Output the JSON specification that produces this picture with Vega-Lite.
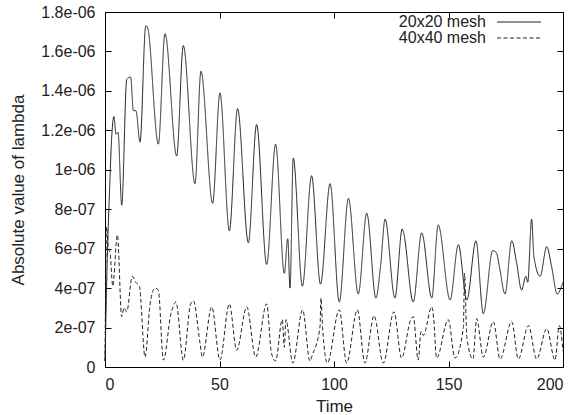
{
  "$schema": "https://vega.github.io/schema/vega-lite/v6.json",
  "width": 458,
  "height": 355,
  "autosize": {"type": "none"},
  "padding": {"left": 105, "top": 12, "right": 11, "bottom": 48},
  "background": "white",
  "config": {
    "view": {"stroke": "#000", "strokeWidth": 1},
    "font": "Liberation Sans",
    "axis": {
      "labelFont": "Liberation Sans",
      "titleFont": "Liberation Sans",
      "labelFontSize": 16,
      "titleFontSize": 17,
      "titleFontWeight": "normal",
      "labelColor": "#222",
      "titleColor": "#222",
      "grid": false,
      "domain": false,
      "ticks": true,
      "tickColor": "#000",
      "tickWidth": 1,
      "tickSize": 6,
      "offset": -6,
      "labelOverlap": false
    }
  },
  "data": {"values": [
    {"t":0,"v":0.3e-7,"mesh":"20x20 mesh"},{"t":1,"v":5.5e-7,"mesh":"20x20 mesh"},{"t":2,"v":9.0e-7,"mesh":"20x20 mesh"},{"t":3,"v":11.8e-7,"mesh":"20x20 mesh"},{"t":3.9,"v":12.7e-7,"mesh":"20x20 mesh"},{"t":4.8,"v":11.8e-7,"mesh":"20x20 mesh"},{"t":5.7,"v":11.9e-7,"mesh":"20x20 mesh"},{"t":7.3,"v":8.2e-7,"mesh":"20x20 mesh"},{"t":9.5,"v":14.6e-7,"mesh":"20x20 mesh"},{"t":11.2,"v":14.7e-7,"mesh":"20x20 mesh"},{"t":12.4,"v":13.0e-7,"mesh":"20x20 mesh"},{"t":13.5,"v":13.0e-7,"mesh":"20x20 mesh"},{"t":15.3,"v":11.4e-7,"mesh":"20x20 mesh"},{"t":17.8,"v":17.3e-7,"mesh":"20x20 mesh"},{"t":18.6,"v":17.2e-7,"mesh":"20x20 mesh"},{"t":23.3,"v":11.3e-7,"mesh":"20x20 mesh"},{"t":26.2,"v":16.9e-7,"mesh":"20x20 mesh"},{"t":31.3,"v":10.7e-7,"mesh":"20x20 mesh"},{"t":34.2,"v":16.3e-7,"mesh":"20x20 mesh"},{"t":39.3,"v":9.3e-7,"mesh":"20x20 mesh"},{"t":41.9,"v":15.0e-7,"mesh":"20x20 mesh"},{"t":47.0,"v":8.3e-7,"mesh":"20x20 mesh"},{"t":50.2,"v":13.9e-7,"mesh":"20x20 mesh"},{"t":54.3,"v":6.9e-7,"mesh":"20x20 mesh"},{"t":57.9,"v":13.1e-7,"mesh":"20x20 mesh"},{"t":62.6,"v":6.3e-7,"mesh":"20x20 mesh"},{"t":66.2,"v":12.3e-7,"mesh":"20x20 mesh"},{"t":70.6,"v":5.2e-7,"mesh":"20x20 mesh"},{"t":74.5,"v":11.3e-7,"mesh":"20x20 mesh"},{"t":78.3,"v":4.75e-7,"mesh":"20x20 mesh"},{"t":79.8,"v":6.5e-7,"mesh":"20x20 mesh"},{"t":80.8,"v":4.0e-7,"mesh":"20x20 mesh"},{"t":82.2,"v":10.6e-7,"mesh":"20x20 mesh"},{"t":86.2,"v":4.1e-7,"mesh":"20x20 mesh"},{"t":90.2,"v":9.7e-7,"mesh":"20x20 mesh"},{"t":94.1,"v":4.2e-7,"mesh":"20x20 mesh"},{"t":98.3,"v":9.3e-7,"mesh":"20x20 mesh"},{"t":102.3,"v":3.3e-7,"mesh":"20x20 mesh"},{"t":106.3,"v":8.55e-7,"mesh":"20x20 mesh"},{"t":110.6,"v":3.7e-7,"mesh":"20x20 mesh"},{"t":114.3,"v":7.8e-7,"mesh":"20x20 mesh"},{"t":118.3,"v":3.5e-7,"mesh":"20x20 mesh"},{"t":120.4,"v":5.2e-7,"mesh":"20x20 mesh"},{"t":122.3,"v":7.5e-7,"mesh":"20x20 mesh"},{"t":126.6,"v":3.5e-7,"mesh":"20x20 mesh"},{"t":129.8,"v":7.0e-7,"mesh":"20x20 mesh"},{"t":130.4,"v":6.8e-7,"mesh":"20x20 mesh"},{"t":134.6,"v":3.3e-7,"mesh":"20x20 mesh"},{"t":138.3,"v":6.8e-7,"mesh":"20x20 mesh"},{"t":142.7,"v":3.5e-7,"mesh":"20x20 mesh"},{"t":145.5,"v":7.2e-7,"mesh":"20x20 mesh"},{"t":150.7,"v":3.4e-7,"mesh":"20x20 mesh"},{"t":154.3,"v":6.2e-7,"mesh":"20x20 mesh"},{"t":158.0,"v":3.4e-7,"mesh":"20x20 mesh"},{"t":162.0,"v":6.4e-7,"mesh":"20x20 mesh"},{"t":165.2,"v":2.7e-7,"mesh":"20x20 mesh"},{"t":169.3,"v":5.9e-7,"mesh":"20x20 mesh"},{"t":170.9,"v":5.8e-7,"mesh":"20x20 mesh"},{"t":172.2,"v":5.1e-7,"mesh":"20x20 mesh"},{"t":174.7,"v":3.7e-7,"mesh":"20x20 mesh"},{"t":177.6,"v":6.4e-7,"mesh":"20x20 mesh"},{"t":179.8,"v":5.25e-7,"mesh":"20x20 mesh"},{"t":181.9,"v":3.9e-7,"mesh":"20x20 mesh"},{"t":183.8,"v":4.6e-7,"mesh":"20x20 mesh"},{"t":184.6,"v":4.3e-7,"mesh":"20x20 mesh"},{"t":186.3,"v":7.5e-7,"mesh":"20x20 mesh"},{"t":187.3,"v":5.6e-7,"mesh":"20x20 mesh"},{"t":190.0,"v":4.6e-7,"mesh":"20x20 mesh"},{"t":192.9,"v":6.1e-7,"mesh":"20x20 mesh"},{"t":195.0,"v":5.1e-7,"mesh":"20x20 mesh"},{"t":197.5,"v":3.7e-7,"mesh":"20x20 mesh"},{"t":199.4,"v":4.1e-7,"mesh":"20x20 mesh"},{"t":200,"v":4.3e-7,"mesh":"20x20 mesh"},
    {"t":0,"v":0.3e-7,"mesh":"40x40 mesh"},{"t":0.7,"v":7.1e-7,"mesh":"40x40 mesh"},{"t":1.5,"v":6.0e-7,"mesh":"40x40 mesh"},{"t":2.2,"v":5.8e-7,"mesh":"40x40 mesh"},{"t":3.4,"v":4.1e-7,"mesh":"40x40 mesh"},{"t":5.4,"v":6.7e-7,"mesh":"40x40 mesh"},{"t":7.3,"v":2.55e-7,"mesh":"40x40 mesh"},{"t":8.3,"v":3.0e-7,"mesh":"40x40 mesh"},{"t":9.5,"v":2.8e-7,"mesh":"40x40 mesh"},{"t":11.9,"v":4.6e-7,"mesh":"40x40 mesh"},{"t":13.4,"v":4.3e-7,"mesh":"40x40 mesh"},{"t":15.0,"v":4.1e-7,"mesh":"40x40 mesh"},{"t":17.5,"v":0.5e-7,"mesh":"40x40 mesh"},{"t":19.7,"v":3.2e-7,"mesh":"40x40 mesh"},{"t":21.8,"v":4.0e-7,"mesh":"40x40 mesh"},{"t":23.3,"v":3.9e-7,"mesh":"40x40 mesh"},{"t":25.5,"v":0.35e-7,"mesh":"40x40 mesh"},{"t":28.8,"v":2.7e-7,"mesh":"40x40 mesh"},{"t":31.0,"v":3.3e-7,"mesh":"40x40 mesh"},{"t":34.2,"v":0.35e-7,"mesh":"40x40 mesh"},{"t":37.4,"v":3.2e-7,"mesh":"40x40 mesh"},{"t":38.6,"v":3.35e-7,"mesh":"40x40 mesh"},{"t":41.5,"v":1.2e-7,"mesh":"40x40 mesh"},{"t":42.5,"v":0.5e-7,"mesh":"40x40 mesh"},{"t":46.6,"v":3.05e-7,"mesh":"40x40 mesh"},{"t":50.2,"v":0.35e-7,"mesh":"40x40 mesh"},{"t":54.3,"v":3.2e-7,"mesh":"40x40 mesh"},{"t":57.5,"v":0.85e-7,"mesh":"40x40 mesh"},{"t":61.9,"v":3.05e-7,"mesh":"40x40 mesh"},{"t":65.8,"v":0.5e-7,"mesh":"40x40 mesh"},{"t":70.6,"v":3.2e-7,"mesh":"40x40 mesh"},{"t":72.7,"v":0.7e-7,"mesh":"40x40 mesh"},{"t":74.5,"v":0.3e-7,"mesh":"40x40 mesh"},{"t":77.4,"v":2.4e-7,"mesh":"40x40 mesh"},{"t":78.3,"v":1.0e-7,"mesh":"40x40 mesh"},{"t":79.0,"v":2.4e-7,"mesh":"40x40 mesh"},{"t":82.0,"v":0.2e-7,"mesh":"40x40 mesh"},{"t":86.3,"v":2.9e-7,"mesh":"40x40 mesh"},{"t":89.5,"v":0.3e-7,"mesh":"40x40 mesh"},{"t":90.5,"v":0.6e-7,"mesh":"40x40 mesh"},{"t":93.9,"v":2.05e-7,"mesh":"40x40 mesh"},{"t":94.3,"v":3.5e-7,"mesh":"40x40 mesh"},{"t":95.0,"v":2.0e-7,"mesh":"40x40 mesh"},{"t":97.1,"v":0.2e-7,"mesh":"40x40 mesh"},{"t":102.3,"v":2.9e-7,"mesh":"40x40 mesh"},{"t":105.5,"v":0.2e-7,"mesh":"40x40 mesh"},{"t":110.2,"v":2.9e-7,"mesh":"40x40 mesh"},{"t":113.5,"v":0.2e-7,"mesh":"40x40 mesh"},{"t":117.5,"v":2.6e-7,"mesh":"40x40 mesh"},{"t":121.5,"v":0.2e-7,"mesh":"40x40 mesh"},{"t":126.2,"v":2.8e-7,"mesh":"40x40 mesh"},{"t":129.5,"v":0.45e-7,"mesh":"40x40 mesh"},{"t":133.5,"v":2.4e-7,"mesh":"40x40 mesh"},{"t":134.6,"v":2.55e-7,"mesh":"40x40 mesh"},{"t":136.8,"v":0.35e-7,"mesh":"40x40 mesh"},{"t":138.0,"v":1.8e-7,"mesh":"40x40 mesh"},{"t":139.0,"v":1.6e-7,"mesh":"40x40 mesh"},{"t":142.7,"v":3.05e-7,"mesh":"40x40 mesh"},{"t":143.5,"v":2.5e-7,"mesh":"40x40 mesh"},{"t":144.8,"v":0.45e-7,"mesh":"40x40 mesh"},{"t":149.9,"v":2.4e-7,"mesh":"40x40 mesh"},{"t":152.8,"v":0.45e-7,"mesh":"40x40 mesh"},{"t":156.5,"v":2.0e-7,"mesh":"40x40 mesh"},{"t":157.0,"v":4.75e-7,"mesh":"40x40 mesh"},{"t":158.0,"v":1.5e-7,"mesh":"40x40 mesh"},{"t":160.7,"v":0.4e-7,"mesh":"40x40 mesh"},{"t":162.3,"v":2.45e-7,"mesh":"40x40 mesh"},{"t":165.2,"v":0.5e-7,"mesh":"40x40 mesh"},{"t":169.6,"v":2.3e-7,"mesh":"40x40 mesh"},{"t":172.5,"v":0.4e-7,"mesh":"40x40 mesh"},{"t":177.6,"v":2.3e-7,"mesh":"40x40 mesh"},{"t":180.5,"v":0.4e-7,"mesh":"40x40 mesh"},{"t":184.9,"v":2.1e-7,"mesh":"40x40 mesh"},{"t":188.5,"v":0.4e-7,"mesh":"40x40 mesh"},{"t":192.9,"v":1.95e-7,"mesh":"40x40 mesh"},{"t":196.5,"v":0.35e-7,"mesh":"40x40 mesh"},{"t":198.4,"v":2.1e-7,"mesh":"40x40 mesh"},{"t":200,"v":0.8e-7,"mesh":"40x40 mesh"}
  ]},
  "layer": [
    {
      "mark": {"type": "line", "interpolate": "monotone", "strokeWidth": 1, "color": "#222"},
      "encoding": {
        "x": {"field": "t", "type": "quantitative", "scale": {"domain": [0, 200], "nice": false},
          "axis": {"orient": "bottom", "title": "Time", "values": [0, 50, 100, 150, 200], "labelFontSize": 16, "labelPadding": 9, "titlePadding": 6}},
        "y": {"field": "v", "type": "quantitative", "scale": {"domain": [0, 1.8e-6], "nice": false},
          "axis": {"orient": "left", "title": "Absolute value of lambda",
            "values": [0, 2e-7, 4e-7, 6e-7, 8e-7, 1e-6, 1.2e-6, 1.4e-6, 1.6e-6, 1.8e-6],
            "labelExpr": "datum.value == 0 ? '0' : replace(format(datum.value, '.1~e'), regexp('e-(\\\\d)$'), 'e-0$1')",
            "labelFontSize": 16, "labelPadding": 10, "titlePadding": 13}},
        "strokeDash": {"field": "mesh", "type": "nominal",
          "scale": {"domain": ["20x20 mesh", "40x40 mesh"], "range": [[1, 0], [4, 2.5]]},
          "legend": {"orient": "none", "legendX": 406, "legendY": 2, "title": null,
            "symbolType": "M-22,0H22", "symbolSize": 4,
            "symbolStrokeWidth": 1, "symbolStrokeColor": "#222", "labelFont": "Liberation Sans", "labelFontSize": 16,
            "labelColor": "#222", "labelAlign": "right", "labelOffset": -41, "rowPadding": 0, "padding": 0}}
      }
    },
    {
      "mark": {"type": "point", "opacity": 0},
      "encoding": {
        "x": {"field": "t", "type": "quantitative", "scale": {"domain": [0, 200], "nice": false},
          "axis": {"orient": "top", "title": null, "labels": false, "values": [0, 50, 100, 150, 200]}},
        "y": {"field": "v", "type": "quantitative", "scale": {"domain": [0, 1.8e-6], "nice": false},
          "axis": {"orient": "right", "title": null, "labels": false,
            "values": [0, 2e-7, 4e-7, 6e-7, 8e-7, 1e-6, 1.2e-6, 1.4e-6, 1.6e-6, 1.8e-6]}}
      }
    }
  ],
  "resolve": {"axis": {"x": "independent", "y": "independent"}}
}
